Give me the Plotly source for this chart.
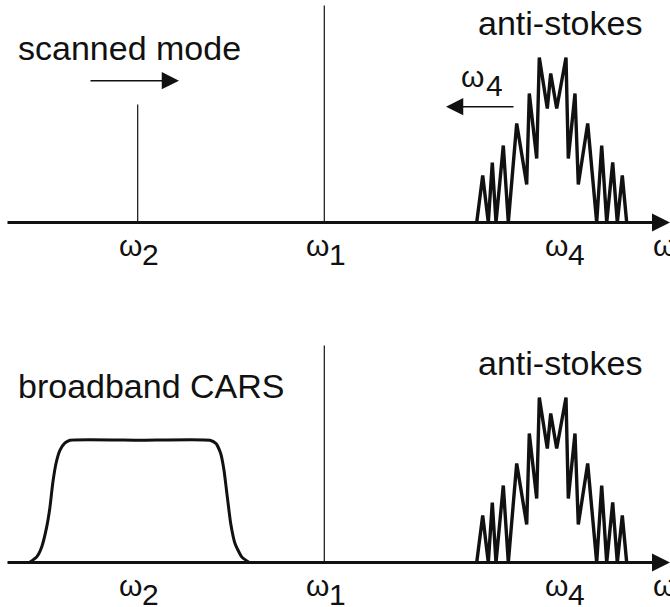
import plotly.graph_objects as go

# ---- data (frequency in arbitrary units, intensity in arbitrary units) ----
as_freq = [476.7, 482.7, 488.3, 492.3, 496.0, 503.3, 508.3, 516.7, 526.7, 529.3,
           536.7, 539.3, 547.3, 550.7, 556.7, 566.0, 568.3, 575.0, 578.3, 587.7,
           596.7, 601.7, 606.7, 612.7, 617.3, 622.3, 626.7]
as_int = [0, 47, 0, 60, 0, 77, 0, 99, 38, 129,
          64, 165, 114, 149, 114, 165, 64, 129, 38, 99,
          0, 77, 0, 60, 0, 47, 0]

bb_freq = [29.3, 36.7, 41.7, 46.7, 50.0, 52.7, 56.0, 60.0, 65.0, 70.0,
           140.0, 210.0, 216.0, 220.7, 224.0, 227.3, 230.7, 235.0, 241.7, 249.3]
bb_int = [0, 5.6, 15.6, 35.6, 55.6, 79, 99, 112.3, 119.6, 122.3,
          122.3, 122.3, 119.0, 109.0, 92.3, 65.6, 39.0, 19.0, 5.6, 0]

w1_freq = 324.3
w1_int = 217
w2_freq = 137.7
w2_int = 118

axis_start, axis_end = 6, 670
tick_labels = [("ω", "2", 137.7), ("ω", "1", 324.3), ("ω", "4", 563)]

FONT = "Liberation Sans, Arial, sans-serif"
BLACK = "#111111"
LW = 3.4

fig = go.Figure()

for yax in ["y", "y2"]:
    fig.add_trace(go.Scatter(x=as_freq, y=as_int, mode="lines", yaxis=yax,
                             line=dict(color=BLACK, width=LW), showlegend=False,
                             hoverinfo="skip"))
    fig.add_trace(go.Scatter(x=[w1_freq, w1_freq], y=[0, w1_int], mode="lines", yaxis=yax,
                             line=dict(color=BLACK, width=1.2), showlegend=False,
                             hoverinfo="skip"))

fig.add_trace(go.Scatter(x=[w2_freq, w2_freq], y=[0, w2_int], mode="lines", yaxis="y",
                         line=dict(color=BLACK, width=1.2), showlegend=False,
                         hoverinfo="skip"))
fig.add_trace(go.Scatter(x=bb_freq, y=bb_int, mode="lines", yaxis="y2",
                         line=dict(color=BLACK, width=3.0, shape="spline", smoothing=0.5),
                         showlegend=False, hoverinfo="skip"))

ann = []
for yr in ["y", "y2"]:
    ann.append(dict(x=axis_end, y=0, ax=axis_start, ay=0, xref="x", yref=yr,
                    axref="x", ayref=yr, text="", showarrow=True, arrowhead=2,
                    arrowsize=1.2, arrowwidth=3, arrowcolor=BLACK))
    for w, sub, xc in tick_labels:
        ann.append(dict(x=xc - 7, y=-23, xref="x", yref=yr, text=w, showarrow=False,
                        font=dict(family=FONT, size=30, color=BLACK)))
        ann.append(dict(x=xc + 13, y=-32, xref="x", yref=yr, text=sub, showarrow=False,
                        font=dict(family=FONT, size=30, color=BLACK)))
    ann.append(dict(x=664, y=-23, xref="x", yref=yr, text="ω", showarrow=False,
                    font=dict(family=FONT, size=30, color=BLACK)))
    ann.append(dict(x=560, y=200, xref="x", yref=yr, text="anti-stokes", showarrow=False,
                    font=dict(family=FONT, size=34, color=BLACK)))

ann.append(dict(x=129, y=175, xref="x", yref="y", text="scanned mode", showarrow=False,
                font=dict(family=FONT, size=34, color=BLACK)))
ann.append(dict(x=151, y=176.5, xref="x", yref="y2", text="broadband CARS", showarrow=False,
                font=dict(family=FONT, size=34, color=BLACK)))

# scanning arrows
ann.append(dict(x=179, y=141.8, ax=89, ay=141.8, xref="x", yref="y", axref="x", ayref="y",
                text="", showarrow=True, arrowhead=2, arrowsize=2.3, arrowwidth=1.5,
                arrowcolor=BLACK))
ann.append(dict(x=446, y=115.8, ax=515, ay=115.8, xref="x", yref="y", axref="x", ayref="y",
                text="", showarrow=True, arrowhead=2, arrowsize=2.3, arrowwidth=1.5,
                arrowcolor=BLACK))
ann.append(dict(x=472, y=146, xref="x", yref="y", text="ω", showarrow=False,
                font=dict(family=FONT, size=30, color=BLACK)))
ann.append(dict(x=494, y=137, xref="x", yref="y", text="4", showarrow=False,
                font=dict(family=FONT, size=30, color=BLACK)))

H = 607.0
fig.update_layout(
    width=670, height=607,
    margin=dict(l=0, r=0, t=0, b=0),
    paper_bgcolor="white", plot_bgcolor="white",
    xaxis=dict(range=[0, 670], domain=[0, 1], visible=False, fixedrange=True),
    yaxis=dict(range=[-52.5, 222.5], domain=[1 - 275 / H, 1], visible=False),
    yaxis2=dict(range=[-44.5, 222.5], domain=[0, 1 - 340 / H], visible=False),
    annotations=ann,
    showlegend=False,
)

fig.write_html("out.html")
